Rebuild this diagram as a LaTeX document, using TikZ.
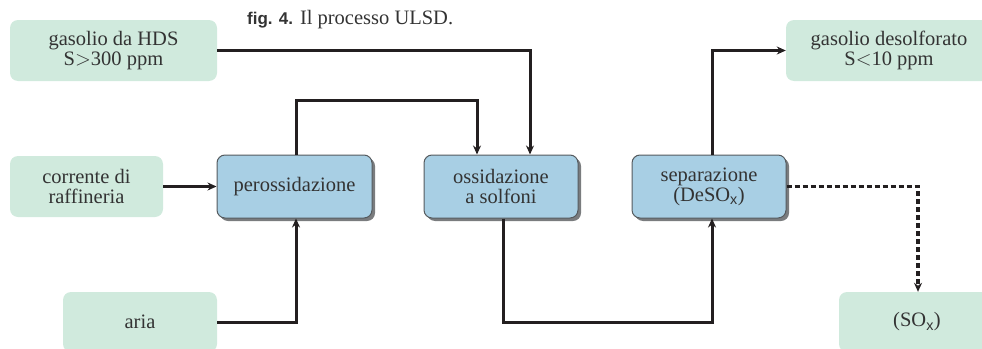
\documentclass[tikz,border=0pt]{standalone}
\usepackage{fontspec}
\setmainfont{Liberation Serif}
\setsansfont{Liberation Sans}
\usetikzlibrary{arrows.meta,calc}
\definecolor{gfill}{HTML}{D0EADD}
\definecolor{bfill}{HTML}{A8CFE4}
\definecolor{bdraw}{HTML}{555A5E}
\definecolor{shad}{HTML}{7A7C7E}
\definecolor{ink}{HTML}{231F20}
\definecolor{txt}{HTML}{333333}
\begin{document}
\begin{tikzpicture}[x=1pt,y=-1pt,
  every node/.style={font=\fontsize{20.5}{20}\selectfont, text=txt, align=center, inner sep=0pt},
  gbox/.style={fill=gfill, rounded corners=8pt},
  bbox/.style={fill=bfill, draw=bdraw, line width=1pt, rounded corners=8pt},
  conn/.style={draw=ink, line width=3pt, -{Stealth[length=9pt,width=8pt]}},
  dconn/.style={draw=ink, line width=3.2pt, dash pattern=on 5pt off 3pt, -{Stealth[length=9pt,width=8pt]}}]
\useasboundingbox (0,0) rectangle (982,348);
\clip (0,0) rectangle (982,348);
% green boxes
\node[gbox, minimum width=207pt, minimum height=61pt] (hds) at (113.5,50.5) {gasolio da HDS\\S$>$300 ppm};
\node[gbox, minimum width=153pt, minimum height=61pt] (corr) at (86.5,186.5) {corrente di\\raffineria};
\node[gbox, minimum width=154pt, minimum height=60pt] (aria) at (140,322) {aria};
\node[gbox, minimum width=206pt, minimum height=61pt] (deso) at (889,50.5) {gasolio desolforato\\S$<$10 ppm};
\node[gbox, minimum width=156pt, minimum height=60pt] (sox) at (917,322) {(SO\textsubscript{\sffamily x})};
% shadows
\fill[shad, rounded corners=8pt] (220,158) rectangle (375,221);
\fill[shad, rounded corners=8pt] (427,158) rectangle (581,221);
\fill[shad, rounded corners=8pt] (635,158) rectangle (789,221);
% blue boxes
\node[bbox, minimum width=155pt, minimum height=63pt] (perox) at (294.5,186.5) {perossidazione};
\node[bbox, minimum width=154pt, minimum height=63pt] (oss) at (501,186.5) {ossidazione\\a solfoni};
\node[bbox, minimum width=154pt, minimum height=63pt] (sep) at (709,186.5) {separazione\\(DeSO\textsubscript{\sffamily x})};
% caption
\node[anchor=west] (cap) at (247,20) {{\sffamily\bfseries\fontsize{17}{17}\selectfont fig. 4.} Il processo ULSD.};
% connectors
\coordinate (c1) at (530,50.5);
\draw[conn] (hds.east) -- (c1) -- (c1 |- oss.north);
\coordinate (c2) at (296,100);
\coordinate (c3) at (477,100);
\draw[conn] (c2 |- perox.north) -- (c2) -- (c3) -- (c3 |- oss.north);
\draw[conn] (corr.east) -- (perox.west);
\coordinate (c4) at (296,322);
\draw[conn] (aria.east) -- (c4) -- (c4 |- perox.south);
\coordinate (c5) at (503,322);
\coordinate (c6) at (712,322);
\draw[conn] (c5 |- oss.south) -- (c5) -- (c6) -- (c6 |- sep.south);
\coordinate (c7) at (712,50.5);
\draw[conn] (c7 |- sep.north) -- (c7) -- (deso.west);
\coordinate (c8) at (918,186.5);
\draw[dconn] (sep.east) -- (c8) -- (c8 |- sox.north);
\end{tikzpicture}
\end{document}
